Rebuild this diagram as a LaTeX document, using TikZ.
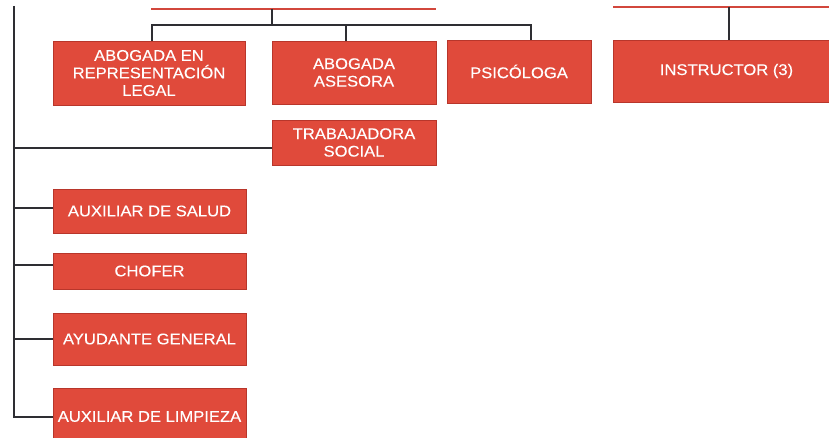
\documentclass[tikz,border=0pt]{standalone}
\usepackage{fontspec}
\setmainfont[FakeStretch=1.07,FakeBold=0.2]{Liberation Sans}
\usepackage{tikz}
\definecolor{cargo}{HTML}{E04A3B}
\definecolor{cargoborde}{HTML}{B8362B}
\definecolor{linea}{HTML}{2E2E33}
\definecolor{rojolinea}{HTML}{D2473C}

\begin{document}
\begin{tikzpicture}[x=1pt,y=-1pt,
    puesto/.style={draw=cargoborde, line width=0.8pt, fill=cargo, text=white, align=center,
        inner sep=0pt, font=\fontsize{15.5}{17.5}\selectfont},
    enlace/.style={draw=linea, line width=2pt},
    jefe/.style={draw=rojolinea, line width=2pt}]
    \useasboundingbox (0,0) rectangle (829,438);

    %Puestos de arriba
    \node[puesto, minimum width=192pt, minimum height=64pt] (leg) at (149,73) {ABOGADA EN\\REPRESENTACIÓN\\LEGAL};
    \node[puesto, minimum width=164pt, minimum height=63pt] (ase) at (354,72.5) {ABOGADA\\ASESORA};
    \node[puesto, minimum width=144pt, minimum height=63pt] (psi) at (519,71.5) {PSICÓLOGA};
    \node[puesto, minimum width=227pt, minimum height=62pt] (ins) at (726.5,71) {INSTRUCTOR (3)};
    \node[puesto, minimum width=164pt, minimum height=45pt] (tra) at (354,142.5) {TRABAJADORA\\SOCIAL};

    %Puestos de la columna izquierda
    \node[puesto, minimum width=193pt, minimum height=44pt] (sal) at (149.5,211) {AUXILIAR DE SALUD};
    \node[puesto, minimum width=193pt, minimum height=36pt] (cho) at (149.5,271) {CHOFER};
    \node[puesto, minimum width=193pt, minimum height=52pt] (ayu) at (149.5,339) {AYUDANTE GENERAL};
    \node[puesto, minimum width=193pt, minimum height=57pt] (lim) at (149.5,416.5) {AUXILIAR DE LIMPIEZA};

    % bordes rojos de los cargos superiores
    \coordinate (sup1a) at (151,9);
    \coordinate (sup1b) at (436,9);
    \coordinate (sup1m) at (272,9);
    \coordinate (sup2a) at (613,7);
    \coordinate (sup2b) at (829,7);
    \coordinate (sup2m) at (729,7);
    \draw[jefe] (sup1a) -- (sup1b);
    \draw[jefe] (sup2a) -- (sup2b);

    % barra de la primera rama
    \coordinate (bus) at (272,25);
    \draw[enlace] (sup1m) -- (bus);
    \draw[enlace] ([xshift=3pt]leg.north) |- (bus) -| ([xshift=12pt]psi.north);
    \draw[enlace] ([xshift=-8pt]ase.north) -- ([xshift=-8pt]ase.north |- bus);
    \draw[enlace] (sup2m) -- (sup2m |- ins.north);

    % linea vertical izquierda
    \coordinate (eje) at (13.5,6);
    \coordinate (traE) at ([yshift=-5.5pt]tra.west);
    \coordinate (salE) at ([yshift=3pt]sal.west);
    \coordinate (choE) at ([yshift=6pt]cho.west);
    \draw[enlace] (eje) |- (lim.west);
    \draw[enlace] (eje |- traE) -- (traE);
    \draw[enlace] (eje |- salE) -- (salE);
    \draw[enlace] (eje |- choE) -- (choE);
    \draw[enlace] (eje |- ayu.west) -- (ayu.west);

\end{tikzpicture}
\end{document}
